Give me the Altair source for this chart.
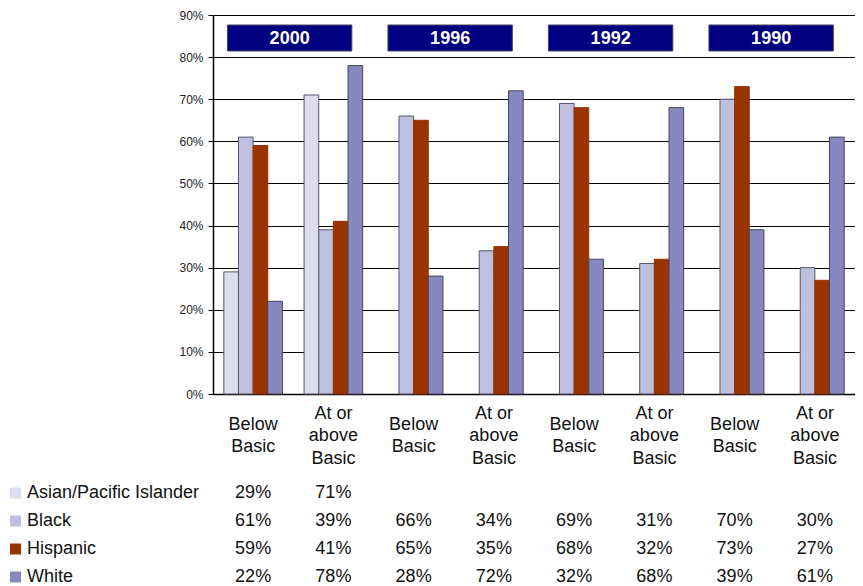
import altair as alt
import pandas as pd

years = ["2000", "1996", "1992", "1990"]
levels = ["Below\nBasic", "At or\nabove\nBasic"]
series = ["Asian/Pacific Islander", "Black", "Hispanic", "White"]
asian = [29, 71, None, None, None, None, None, None]
black = [61, 39, 66, 34, 69, 31, 70, 30]
hispanic = [59, 41, 65, 35, 68, 32, 73, 27]
white = [22, 78, 28, 72, 32, 68, 39, 61]
fills = ["#DDDDEE", "#BFBFDF", "#993300", "#8888C0"]
strokes = ["#55556A", "#55556A", "#993300", "#44445A"]
y_ticks = [0, 10, 20, 30, 40, 50, 60, 70, 80, 90]

FONT = "Liberation Sans"
W = 642
H = 379
LH = 22.5

cats = [f"{y}|{l}" for y in years for l in levels]
rows = []
for s, vals in zip(series, [asian, black, hispanic, white]):
    for c, v in zip(cats, vals):
        if v is not None:
            rows.append({"cat": c, "series": s, "value": v})
df = pd.DataFrame(rows)

box_df = pd.DataFrame({"year": years, "idx": list(range(len(years)))})

xscale = alt.Scale(domain=cats, paddingInner=0.27, paddingOuter=0.135)
color_scale = alt.Scale(domain=series, range=fills)
stroke_scale = alt.Scale(domain=series, range=strokes)

LN = "split(split(datum.value, '|')[1], '\\n')"
PAD3 = 19
label_padding = {"condition": {"test": f"length({LN}) < 3", "value": PAD3 + LH / 2},
                 "value": PAD3}

bars = alt.Chart(df).mark_bar(strokeWidth=1).encode(
    x=alt.X("cat:N", sort=cats, scale=xscale, title=None,
            axis=alt.Axis(labelExpr=LN,
                          labelAngle=0, labelFontSize=18, labelLineHeight=LH,
                          labelBaseline="middle", labelPadding=label_padding,
                          ticks=False, tickSize=0, labelColor="#111111",
                          domainColor="#000000", domainWidth=1.5)),
    xOffset=alt.XOffset("series:N", sort=series,
                        scale=alt.Scale(domain=series, paddingInner=0, paddingOuter=0)),
    y=alt.Y("value:Q", scale=alt.Scale(domain=[0, 90], nice=False), title=None,
            axis=alt.Axis(values=y_ticks, labelExpr="datum.value + '%'",
                          grid=True, gridColor="#000000", gridOpacity=1, gridWidth=1,
                          tickSize=5, tickColor="#000000", labelPadding=5,
                          labelFontSize=12, labelColor="#222222",
                          domainColor="#000000", domainWidth=1.5)),
    color=alt.Color("series:N", scale=color_scale, legend=None),
    stroke=alt.Stroke("series:N", scale=stroke_scale, legend=None),
)

bx = alt.Scale(domain=[0, len(cats)], nice=False, zero=False)
boxes = alt.Chart(box_df).transform_calculate(
    x0="2 * datum.idx + 0.18", x1="2 * datum.idx + 1.73"
).mark_rect(color="#000080", stroke="#444466", strokeWidth=1).encode(
    x=alt.X("x0:Q", scale=bx, axis=None),
    x2="x1:Q",
    y=alt.value(10),
    y2=alt.value(36),
)
box_text = alt.Chart(box_df).transform_calculate(
    xc="2 * datum.idx + 0.955"
).mark_text(color="white", fontWeight="bold", fontSize=18, baseline="middle").encode(
    x=alt.X("xc:Q", scale=bx, axis=None),
    y=alt.value(23.5),
    text="year:N",
)

top = alt.layer(bars, boxes, box_text).resolve_scale(x="independent").properties(
    width=W, height=H)

tdf = df.copy()
tdf["label"] = tdf["value"].astype(int).astype(str) + "%"
sdf = pd.DataFrame({"series": series})

yscale_t = alt.Scale(domain=series, type="point", padding=0.5)
cells = alt.Chart(tdf).mark_text(fontSize=18, color="#111111", baseline="middle").encode(
    x=alt.X("cat:N", sort=cats, scale=xscale, axis=None),
    y=alt.Y("series:N", sort=series, scale=yscale_t, axis=None),
    text="label:N",
)
row_labels = alt.Chart(sdf).mark_text(fontSize=18, color="#111111", align="left",
                                        baseline="middle").encode(
    x=alt.value(-186),
    y=alt.Y("series:N", sort=series, scale=yscale_t, axis=None),
    text="series:N",
)
squares = alt.Chart(sdf).mark_square(size=121, opacity=1).encode(
    x=alt.value(-197.5),
    y=alt.Y("series:N", sort=series, scale=yscale_t, axis=None),
    color=alt.Color("series:N", scale=color_scale, legend=None),
)
table = alt.layer(squares, row_labels, cells).properties(width=W, height=112)

chart = alt.vconcat(top, table, spacing=85, bounds="flush").properties(
    padding={"left": 2, "top": 1, "right": 0, "bottom": 0}
).configure(font=FONT).configure_view(stroke=None)

chart.save("out.html", embed_options={"renderer": "svg", "actions": False})
